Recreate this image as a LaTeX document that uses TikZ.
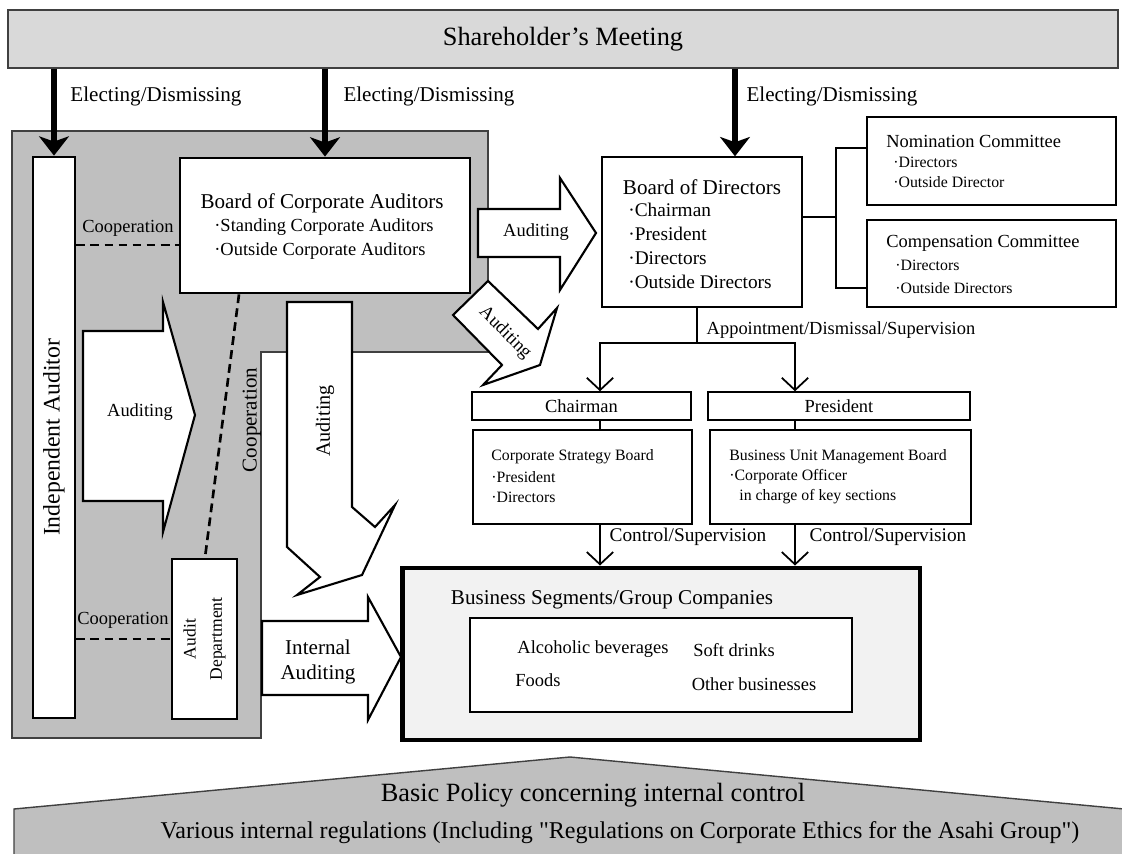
\documentclass[tikz,border=0pt]{standalone}
\usepackage{fontspec}
\setmainfont{Liberation Serif}
\usetikzlibrary{arrows.meta}
\definecolor{regiongray}{HTML}{BFBFBF}
\definecolor{headgray}{HTML}{D9D9D9}
\definecolor{segfill}{HTML}{F2F2F2}
\definecolor{edgegray}{HTML}{404040}
\newcommand\fsz[1]{\fontsize{#1}{#1}\selectfont}
\newcommand\bul{\textperiodcentered}
\begin{document}
\begin{tikzpicture}[x=0.02cm, y=-0.02cm,
  box/.style={draw, fill=white, line width=0.8pt, inner sep=0pt},
  thickbox/.style={box, line width=1.6pt},
  txt/.style={inner sep=0pt},
  elect/.style={line width=3pt, -{Stealth[length=11pt,width=17pt,inset=3pt]}},
  appt/.style={line width=1pt, -{Straight Barb[length=7pt,width=15pt]}},
  coop/.style={line width=1.5pt, dash pattern=on 5pt off 3pt},
  blockarrow/.style={draw, fill=white, line width=1.2pt, line join=miter}]
  \clip (0,0) rectangle (1122,854);
  % shaded auditing area
  \filldraw[fill=regiongray, draw=edgegray, line width=0.8pt]
    (12,131) -- (488,131) -- (488,352) -- (261,352) -- (261,738) -- (12,738) -- cycle;
  % shareholder's meeting
  \node[draw=edgegray, fill=headgray, line width=0.8pt, minimum width=22.2cm, minimum height=1.16cm, font=\fsz{15}] (sh) at (563,39) {Shareholder's Meeting};
  % auditors
  \node[thickbox, minimum width=0.84cm, minimum height=11.22cm] (ind) at (54,437.5) {};
  \node[txt, rotate=90, font=\fsz{13.5}] (indtxt) at (ind) {Independent Auditor};
  \node[thickbox, minimum width=5.8cm, minimum height=2.7cm] (bca) at (325,225.5) {};
  \node[txt, font=\fsz{12}] (bcat) at (322,203) {Board of Corporate Auditors};
  \node[txt, anchor=west, font=\fsz{10.5}] (bca1) at (214,227) {\bul Standing Corporate Auditors};
  \node[txt, anchor=west, font=\fsz{10.5}] (bca2) at (214,251) {\bul Outside Corporate Auditors};
  \node[thickbox, minimum width=1.3cm, minimum height=3.2cm] (aud) at (204.5,639) {};
  \node[txt, rotate=90, align=center, font=\fontsize{10}{15}\selectfont] (audtxt) at (aud) {Audit\\Department};
  % board of directors and committees
  \node[box, minimum width=4cm, minimum height=3cm] (bod) at (702,232) {};
  \node[txt, font=\fsz{12}] (bodt) at (702,187) {Board of Directors};
  \node[txt, anchor=west, font=\fsz{11}] (bod1) at (628,210) {\bul Chairman};
  \node[txt, anchor=west, font=\fsz{11}] (bod2) at (628,234) {\bul President};
  \node[txt, anchor=west, font=\fsz{11}] (bod3) at (628,258) {\bul Directors};
  \node[txt, anchor=west, font=\fsz{11}] (bod4) at (628,282) {\bul Outside Directors};
  \node[box, minimum width=4.98cm, minimum height=1.76cm] (nom) at (991.5,161) {};
  \node[txt, anchor=west, font=\fsz{10.5}] (nomt) at (886,141) {Nomination Committee};
  \node[txt, anchor=west, font=\fsz{9}] (nom1) at (893,162) {\bul Directors};
  \node[txt, anchor=west, font=\fsz{9}] (nom2) at (893,182) {\bul Outside Director};
  \node[box, minimum width=4.98cm, minimum height=1.74cm] (comp) at (991.5,263.5) {};
  \node[txt, anchor=west, font=\fsz{10.5}] (compt) at (886,243) {Compensation Committee};
  \node[txt, anchor=west, font=\fsz{9}] (comp1) at (895,265) {\bul Directors};
  \node[txt, anchor=west, font=\fsz{9}] (comp2) at (895,288) {\bul Outside Directors};
  % executives
  \node[box, minimum width=4.38cm, minimum height=0.56cm, font=\fsz{10.5}] (chair) at (581.5,406) {Chairman};
  \node[box, minimum width=5.24cm, minimum height=0.56cm, font=\fsz{10.5}] (pres) at (839,406) {President};
  \node[box, minimum width=4.38cm, minimum height=1.88cm] (csb) at (582.5,477) {};
  \node[txt, anchor=west, font=\fsz{9}] (csbt) at (491,457) {Corporate Strategy Board};
  \node[txt, anchor=west, font=\fsz{9}] (csb1) at (491,477) {\bul President};
  \node[txt, anchor=west, font=\fsz{9}] (csb2) at (491,497) {\bul Directors};
  \node[box, minimum width=5.22cm, minimum height=1.88cm] (bumb) at (840.5,477) {};
  \node[txt, anchor=west, font=\fsz{9}] (bumbt) at (729,457) {Business Unit Management Board};
  \node[txt, anchor=west, font=\fsz{9}] (bumb1) at (729,477) {\bul Corporate Officer};
  \node[txt, anchor=west, font=\fsz{9}] (bumb2) at (739,497) {in charge of key sections};
  % business segments
  \node[draw, fill=segfill, line width=2.8pt, minimum width=10.36cm, minimum height=3.44cm] (seg) at (661,654) {};
  \node[txt, font=\fsz{12}] (segt) at (612,600) {Business Segments/Group Companies};
  \node[thickbox, minimum width=7.64cm, minimum height=1.88cm] (segin) at (661,665) {};
  \node[txt, font=\fsz{10.5}] (alc) at (593,649) {Alcoholic beverages};
  \node[txt, font=\fsz{10.5}] (soft) at (734,650) {Soft drinks};
  \node[txt, font=\fsz{10.5}] (food) at (538,680) {Foods};
  \node[txt, font=\fsz{10.5}] (other) at (754,684) {Other businesses};
  % electing / dismissing
  \coordinate (e3) at (735,0);
  \draw[elect] (sh.south -| ind.north) -- (ind.north);
  \draw[elect] (sh.south -| bca.north) -- (bca.north);
  \draw[elect] (sh.south -| e3) -- (bod.north -| e3);
  \node[txt, font=\fsz{12}] (el1) at (156,96) {Electing/Dismissing};
  \node[txt, font=\fsz{12}] (el2) at (429,96) {Electing/Dismissing};
  \node[txt, font=\fsz{12}] (el3) at (832,96) {Electing/Dismissing};
  % cooperation
  \coordinate (c1) at (0,245);
  \draw[coop] (ind.east |- c1) -- (bca.west |- c1);
  \draw[coop] (bca.south -| 239,0) -- (aud.north -| 205,0);
  \draw[coop] (ind.east |- aud.west) -- (aud.west);
  \node[txt, font=\fsz{10.5}] (co1) at (128,228) {Cooperation};
  \node[txt, font=\fsz{10.5}] (co2) at (123,620) {Cooperation};
  \node[txt, rotate=90, font=\fsz{12}] (co3) at (252,420) {Cooperation};
  % auditing arrows
  \filldraw[blockarrow] (83,331) -- (163,331) -- (163,302) -- (195,415) -- (163,532) -- (163,501) -- (83,501) -- cycle;
  \filldraw[blockarrow] (478,209) -- (560,209) -- (560,178) -- (596,233) -- (560,290) -- (560,257) -- (478,257) -- cycle;
  \filldraw[blockarrow] (453,315) -- (488,281) -- (538,329) -- (557,308) -- (540,365) -- (483,385) -- (502,365) -- cycle;
  \filldraw[blockarrow] (287,302) -- (352,302) -- (352,507) -- (375,527) -- (395,505) -- (362,575) -- (297,595) -- (320,577) -- (287,547) -- cycle;
  \filldraw[blockarrow] (262,621) -- (368,621) -- (368,597) -- (401,657) -- (368,720) -- (368,695) -- (262,695) -- cycle;
  \node[txt, font=\fsz{10.5}] (au1) at (140,412) {Auditing};
  \node[txt, font=\fsz{10.5}] (au2) at (536,232) {Auditing};
  \node[txt, rotate=-45, font=\fsz{10.5}] (au3) at (505,333) {Auditing};
  \node[txt, rotate=90, font=\fsz{11.5}] (au4) at (325,421) {Auditing};
  \node[txt, align=center, font=\fontsize{12}{14}\selectfont] (au5) at (318,662) {Internal\\Auditing};
  % board links
  \draw[line width=1.5pt] (bod.east |- 0,217) -- (836,217);
  \draw[line width=1.5pt] (nom.west |- 0,148) -- (836,148) -- (836,288) -- (comp.west |- 0,288);
  \coordinate (cx) at (600,0);
  \coordinate (px) at (795,0);
  \draw[line width=1.5pt] (bod.south -| 697,0) -- (697,343);
  \draw[appt] (697,343) -| (chair.north -| cx);
  \draw[appt] (697,343) -| (pres.north -| px);
  \node[txt, font=\fsz{10.5}] (appt) at (841,330) {Appointment/Dismissal/Supervision};
  \draw[line width=1pt] (chair.south -| cx) -- (csb.north -| cx);
  \draw[line width=1pt] (pres.south -| px) -- (bumb.north -| px);
  \draw[appt] (csb.south -| cx) -- (seg.north -| cx);
  \draw[appt] (bumb.south -| px) -- (seg.north -| px);
  \node[txt, font=\fsz{11}] (ctl1) at (688,537) {Control/Supervision};
  \node[txt, font=\fsz{11}] (ctl2) at (888,537) {Control/Supervision};
  % basic policy
  \filldraw[fill=regiongray, draw=edgegray, line width=0.8pt]
    (14,809) -- (570,757) -- (1124,809) -- (1124,870) -- (14,870) -- cycle;
  \node[txt, font=\fsz{15}] (pol) at (593,795) {Basic Policy concerning internal control};
  \node[txt, font=\fsz{13.7}] (reg) at (620,833) {Various internal regulations (Including \textquotedbl Regulations on Corporate Ethics for the Asahi Group\textquotedbl)};
\end{tikzpicture}
\end{document}
